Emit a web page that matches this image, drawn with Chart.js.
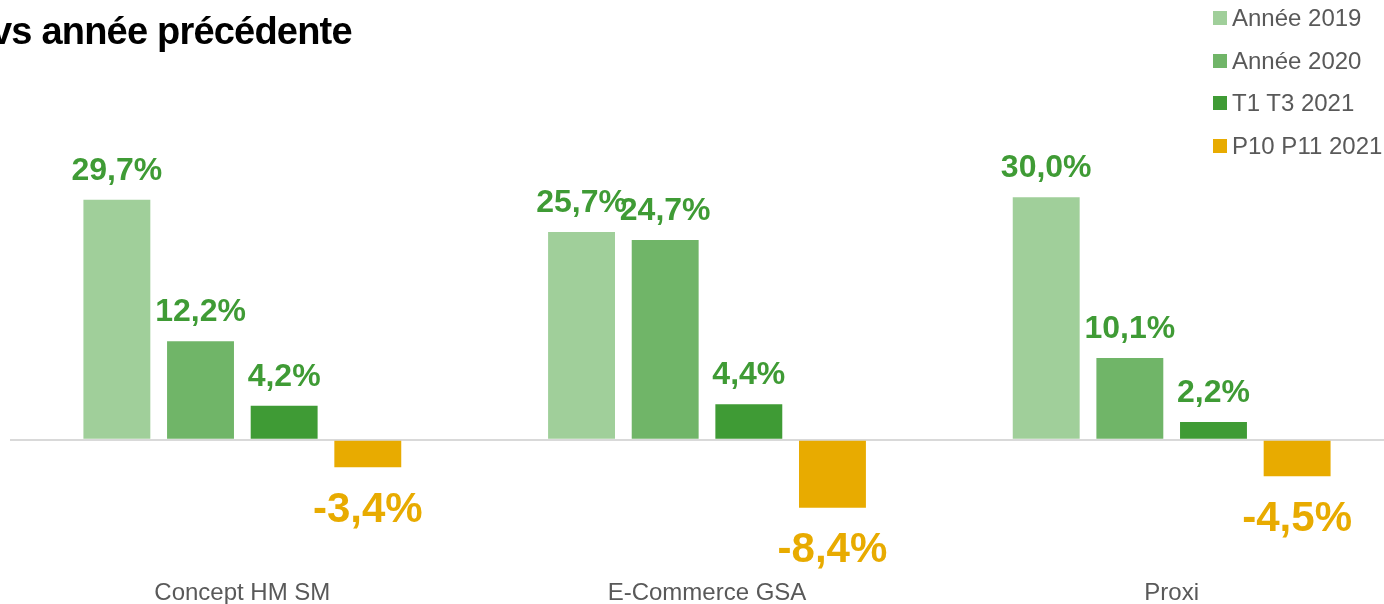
<!DOCTYPE html>
<html>
<head>
<meta charset="utf-8">
<script src="https://cdn.jsdelivr.net/npm/chart.js@4"></script>
<style>
    html, body { margin: 0; padding: 0; background: #fff; overflow: hidden; }
    body { width: 1384px; height: 604px; position: relative; font-family: Arial, 'Liberation Sans', sans-serif; }
    #wrap { position: absolute; left: 0; top: 0; width: 1404px; height: 604px; }
    #title { position: absolute; left: -9px; top: 10px; font-size: 38px; line-height: normal; font-weight: bold; color: #000; white-space: nowrap; letter-spacing: -0.8px; }
    #legend { position: absolute; left: 1213px; top: -3px; }
    .item { height: 42.5px; display: flex; align-items: center; font-size: 24px; color: #595959; }
    .item span.box { width: 14px; height: 14px; margin-right: 5px; display: inline-block; }
</style>
</head>
<body>
<div id="wrap"><canvas id="chart"></canvas></div>
<div id="title">vs année précédente</div>
<div id="legend"></div>
<script>
// ──────────────────────────────────────
// Data
// ──────────────────────────────────────

const categories = ['Concept HM SM', 'E-Commerce GSA', 'Proxi'];
const seriesNames = ['Année 2019', 'Année 2020', 'T1 T3 2021', 'P10 P11 2021'];
const annee2019 = [29.7, 25.7, 30.0];
const annee2020 = [12.2, 24.7, 10.1];
const t1t3_2021 = [4.2, 4.4, 2.2];
const p10p11_2021 = [-3.4, -8.4, -4.5];

const COLORS = ['#a0cf9a', '#70b568', '#3f9b35', '#e8ab00'];
const LABEL_POS = '#3f9b35';
const LABEL_NEG = '#e8ab00';
const FONT = "Arial, 'Liberation Sans', sans-serif";

const seriesValues = [annee2019, annee2020, t1t3_2021, p10p11_2021];

// legend (HTML, top right)
const legendEl = document.getElementById('legend');
seriesNames.forEach((name, i) => {
    const row = document.createElement('div');
    row.className = 'item';
    row.innerHTML = '<span class="box" style="background:' + COLORS[i] + '"></span>' + name;
    legendEl.appendChild(row);
});

function fmt(v) {
    return v.toFixed(1).replace('.', ',') + '%';
}

// value labels above / below bars
const valueLabels = {
    id: 'valueLabels',
    afterDatasetsDraw(chart) {
        const ctx = chart.ctx;
        ctx.save();
        ctx.textAlign = 'center';
        ctx.textBaseline = 'middle';
        chart.data.datasets.forEach((ds, di) => {
            const meta = chart.getDatasetMeta(di);
            meta.data.forEach((bar, i) => {
                const v = ds.data[i];
                if (v >= 0) {
                    ctx.font = 'bold 32px ' + FONT;
                    ctx.fillStyle = LABEL_POS;
                    ctx.fillText(fmt(v), bar.x, bar.y - 29);
                } else {
                    ctx.font = 'bold 42px ' + FONT;
                    ctx.fillStyle = LABEL_NEG;
                    ctx.fillText(fmt(v), bar.x, bar.y + 43);
                }
            });
        });
        ctx.restore();
    }
};

new Chart(document.getElementById('chart'), {
    type: 'bar',
    data: {
        labels: categories,
        datasets: seriesNames.map((name, i) => ({
            label: name,
            data: seriesValues[i],
            backgroundColor: COLORS[i],
            borderWidth: 0,
            categoryPercentage: 0.72,
            barPercentage: 0.8,
        }))
    },
    options: {
        responsive: true,
        maintainAspectRatio: false,
        animation: false,
        layout: { padding: { left: 10, right: 0, top: 173, bottom: 0 } },
        plugins: {
            legend: { display: false },
            tooltip: { enabled: false },
        },
        scales: {
            x: {
                grid: { display: false, drawTicks: false },
                border: { display: false },
                afterFit: (scale) => { scale.height = 43; },
                ticks: {
                    padding: 18,
                    color: '#595959',
                    font: { size: 24, family: FONT },
                }
            },
            y: {
                min: -15,
                max: 33,
                border: { display: false },
                grid: {
                    drawTicks: false,
                    lineWidth: 2,
                    color: (c) => c.tick && c.tick.value === 0 ? '#d9d9d9' : 'transparent',
                },
                ticks: { display: false, stepSize: 3 },
            }
        }
    },
    plugins: [valueLabels]
});
</script>
</body>
</html>
